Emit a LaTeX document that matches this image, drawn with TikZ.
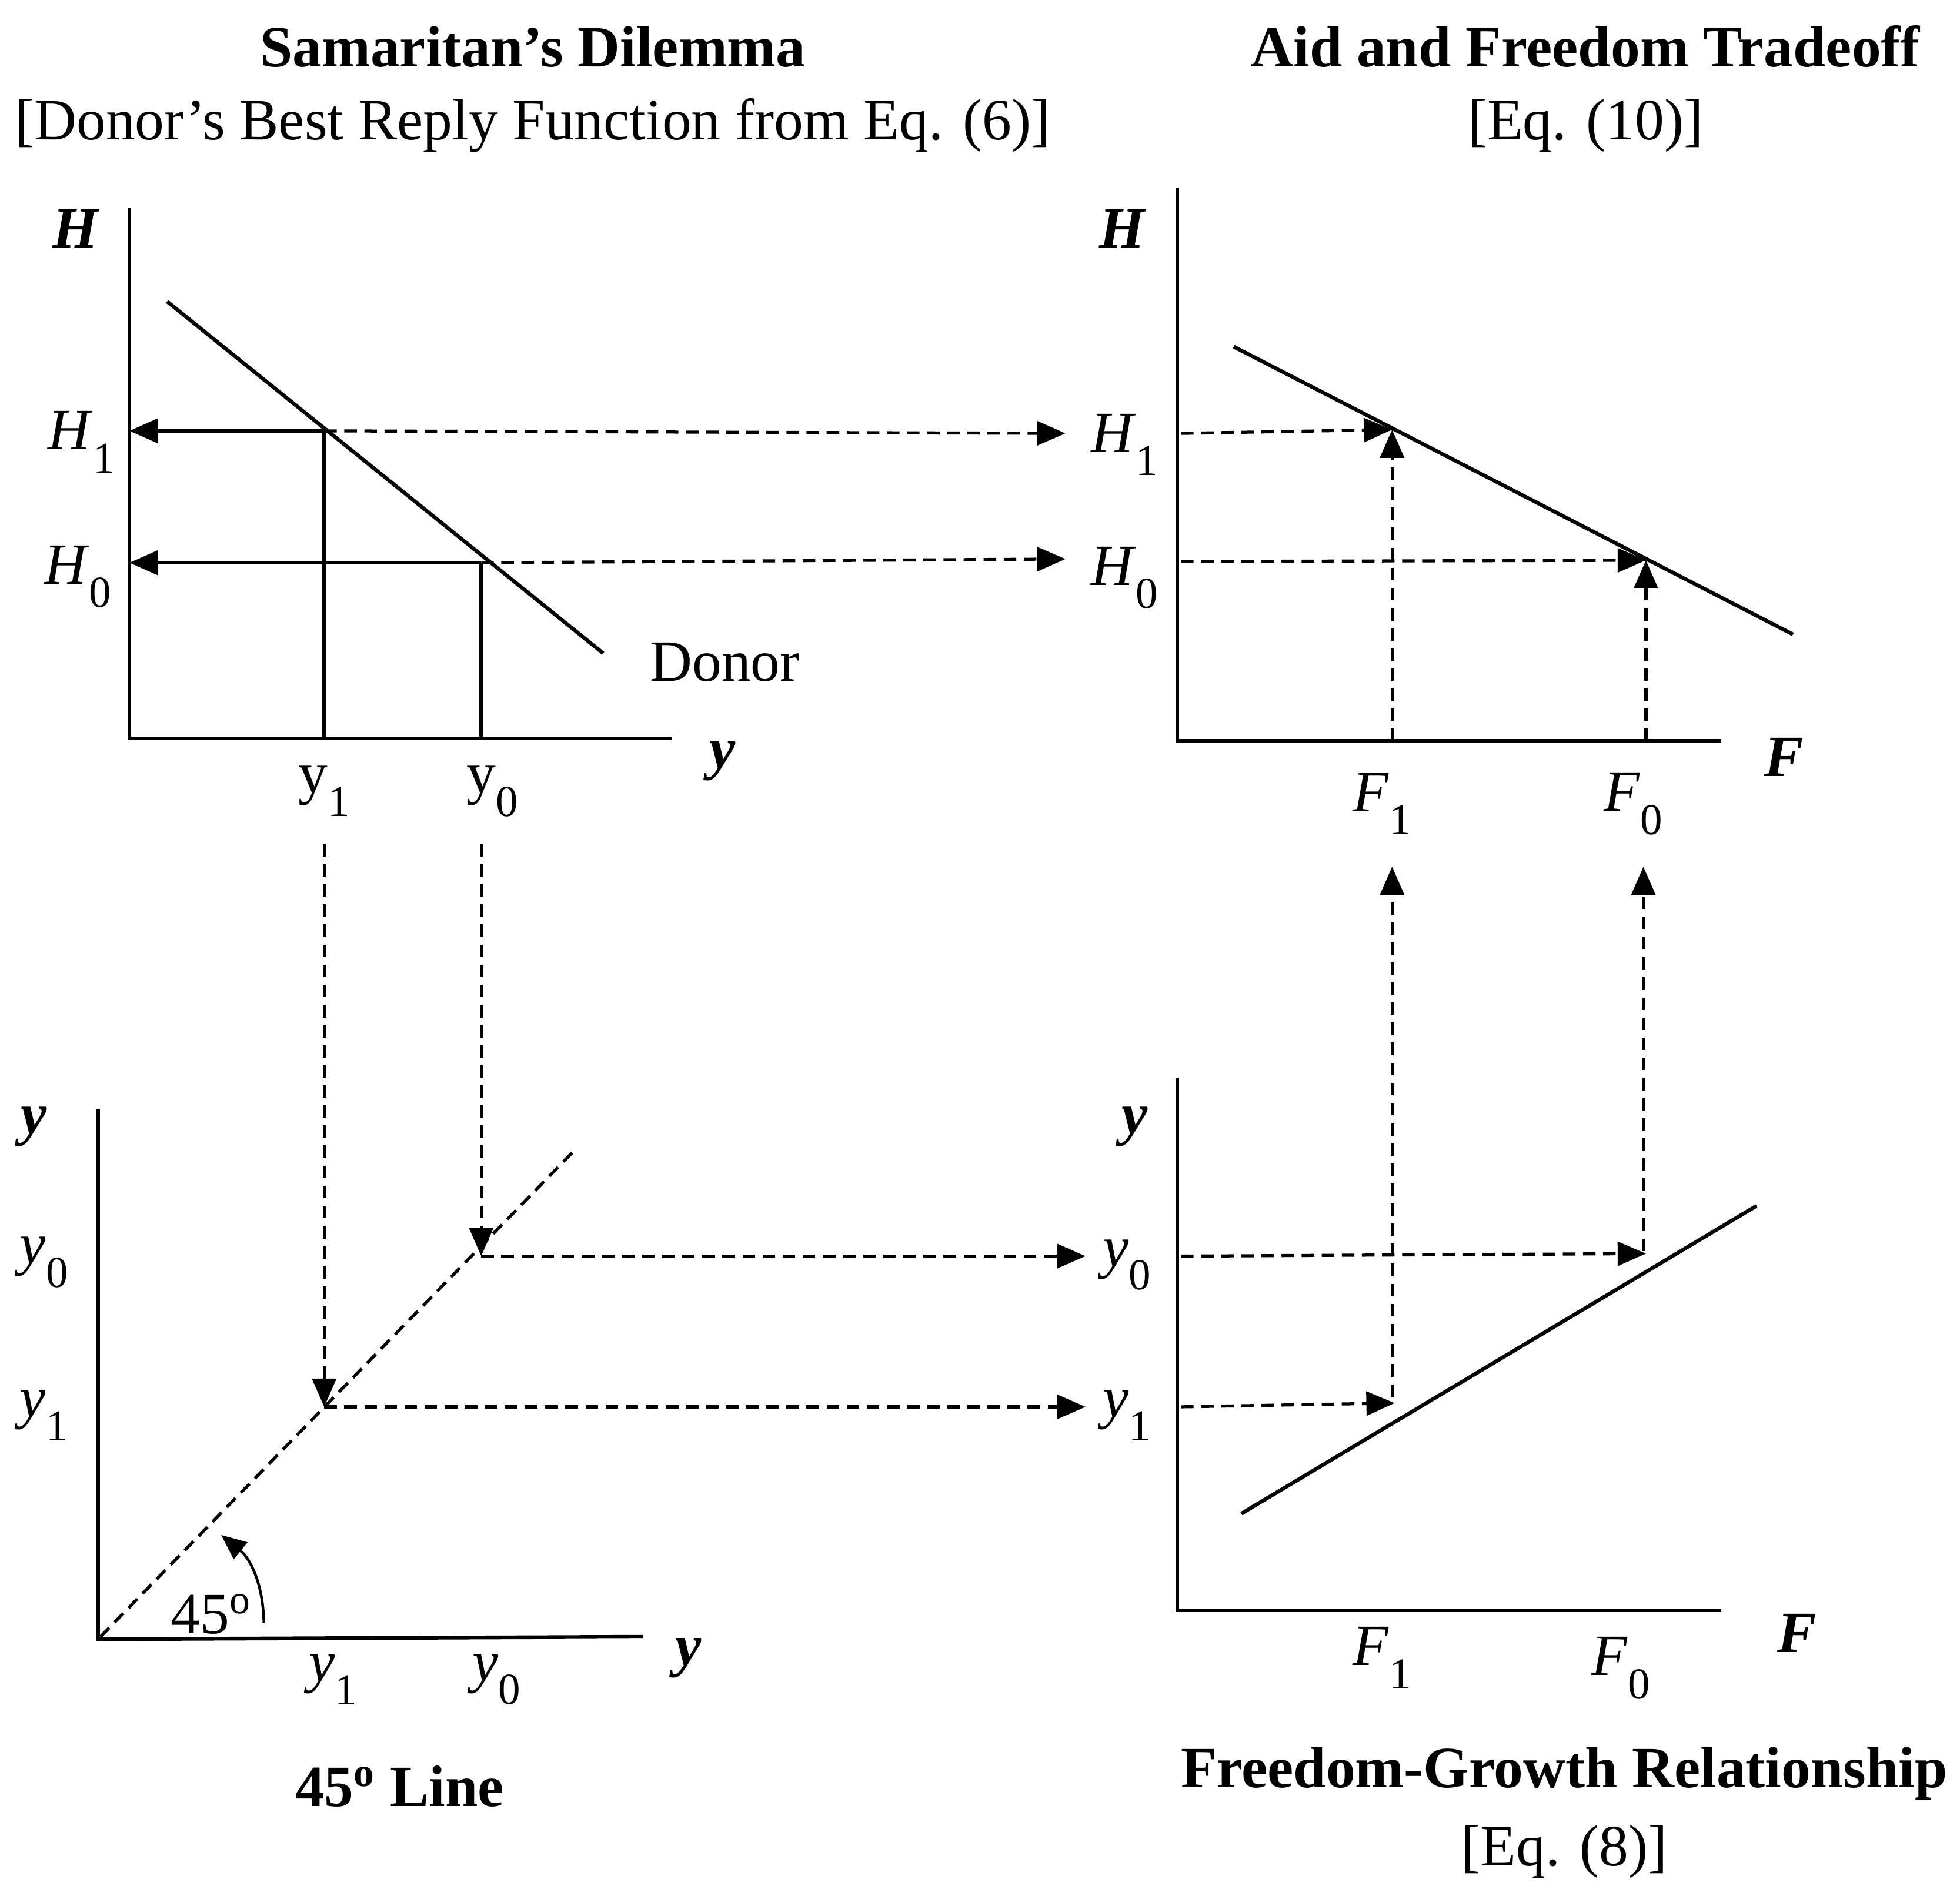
\documentclass[tikz,border=0pt]{standalone}
\usepackage{fontspec}
\setmainfont{Liberation Serif}
\usetikzlibrary{arrows.meta}
\newcommand{\sbs}[1]{\raisebox{-0.4em}{\fontsize{20}{20}\selectfont\upshape #1}}
\begin{document}
\begin{tikzpicture}[x=0.02cm,y=-0.02cm,
  ln/.style={line width=1.7pt},
  dsh/.style={line width=1.4pt,dash pattern=on 0.2cm off 0.12cm},
  arr/.style={-{Triangle[length=0.45cm,width=0.38cm]}},
  lab/.style={font=\fontsize{26.5}{30}\selectfont,inner sep=0pt},
  bi/.style={font=\fontsize{26.5}{30}\selectfont\bfseries\itshape,inner sep=0pt},
  ttl/.style={font=\fontsize{26.5}{30}\selectfont\bfseries,inner sep=0pt}]
\useasboundingbox (0,0) rectangle (1560,1509);
% titles
\node[ttl] (t1) at (424,37) {Samaritan’s Dilemma};
\node[lab] (t2) at (424,100) {[Donor’s Best Reply Function from Eq. (6)]};
\node[ttl] (t3) at (1262,37) {Aid and Freedom Tradeoff};
\node[lab] (t4) at (1262,100) {[Eq. (10)]};
\node[ttl] (t5) at (318,1422) {45\textsuperscript{o} Line};
\node[ttl] (t6) at (1245,1412) {Freedom-Growth Relationship};
\node[lab] (t7) at (1245,1474) {[Eq. (8)]};
% ---- top left
\draw[ln] (103,165) -- (103,588) -- (535,588);
\coordinate (d0) at (133,240); \coordinate (d1) at (480,520);
\draw[ln] (d0) -- (d1);
\coordinate (p1) at (258,343); \coordinate (p0) at (383,448);
\coordinate (h1) at (103,343); \coordinate (h0) at (103,448);
\draw[ln,arr] (p1) -- (h1);
\draw[ln,arr] (p0) -- (h0);
\draw[ln] (p1) -- (258,588);
\draw[ln] (p0) -- (383,588);
\node[bi] (lH) at (60,182) {H};
\node[lab] (lH1) at (65,352) {\textit{H}\sbs{1}};
\node[lab] (lH0) at (62,459) {\textit{H}\sbs{0}};
\node[lab] (don) at (577,527) {Donor};
\node[bi] (ly) at (575,606) {y};
\node[lab] (ly1) at (258,630) {y\sbs{1}};
\node[lab] (ly0) at (392,630) {y\sbs{0}};
% ---- top right
\draw[ln] (937,150) -- (937,590) -- (1370,590);
\coordinate (f0) at (982,276); \coordinate (f1) at (1427,505);
\draw[ln] (f0) -- (f1);
\coordinate (q1) at (1108,342); \coordinate (q0) at (1310,446);
\coordinate (g1) at (848,345); \coordinate (g0) at (848,445);
\draw[dsh,arr] (p1) -- (g1);
\draw[dsh,arr] (p0) -- (g0);
\draw[dsh,arr] (940,345) -- (q1);
\draw[dsh,arr] (940,447) -- (q0);
\draw[dsh,arr] (1108,590) -- (q1);
\draw[dsh,arr] (1310,590) -- (q0);
\node[bi] (rH) at (893,182) {H};
\node[lab] (rH1) at (895,354) {\textit{H}\sbs{1}};
\node[lab] (rH0) at (895,460) {\textit{H}\sbs{0}};
\node[bi] (rF) at (1420,603) {F};
\node[lab] (rF1) at (1100,640) {\textit{F}\sbs{1}};
\node[lab] (rF0) at (1300,640) {\textit{F}\sbs{0}};
% ---- bottom left
\draw[ln] (78,883) -- (78,1305) -- (512,1303);
\coordinate (o) at (80,1303); \coordinate (e) at (458,915);
\draw[dsh] (o) -- (e);
\coordinate (m1) at (258,1120); \coordinate (m0) at (383,1000);
\draw[dsh,arr] (258,672) -- (m1);
\draw[dsh,arr] (383,672) -- (m0);
\coordinate (n1) at (864,1120); \coordinate (n0) at (864,1000);
\draw[dsh,arr] (m1) -- (n1);
\draw[dsh,arr] (m0) -- (n0);
\draw[line width=1.2pt,-{Triangle[length=0.4cm,width=0.34cm]}] (210,1292) to[bend right=25] (176,1222);
\node[lab] (deg) at (168,1285) {45\textsuperscript{o}};
\node[bi] (by) at (27,897) {y};
\node[lab] (by0) at (35,1005) {\textit{y}\sbs{0}};
\node[lab] (by1) at (35,1127) {\textit{y}\sbs{1}};
\node[bi] (bx) at (548,1320) {y};
\node[lab] (bx1) at (265,1337) {\textit{y}\sbs{1}};
\node[lab] (bx0) at (395,1337) {\textit{y}\sbs{0}};
% ---- bottom right
\draw[ln] (937,858) -- (937,1282) -- (1370,1282);
\coordinate (s0) at (988,1205); \coordinate (s1) at (1398,960);
\draw[ln] (s0) -- (s1);
\coordinate (u1) at (1110,1117); \coordinate (u0) at (1310,998);
\draw[dsh,arr] (940,1000) -- (u0);
\draw[dsh,arr] (940,1120) -- (u1);
\draw[dsh,arr] (1108,1112) -- (1108,690);
\draw[dsh,arr] (1308,996) -- (1308,690);
\node[bi] (cy) at (903,897) {y};
\node[lab] (cy0) at (897,1007) {\textit{y}\sbs{0}};
\node[lab] (cy1) at (897,1127) {\textit{y}\sbs{1}};
\node[bi] (cF) at (1430,1300) {F};
\node[lab] (cF1) at (1100,1320) {\textit{F}\sbs{1}};
\node[lab] (cF0) at (1290,1328) {\textit{F}\sbs{0}};
\end{tikzpicture}
\end{document}
